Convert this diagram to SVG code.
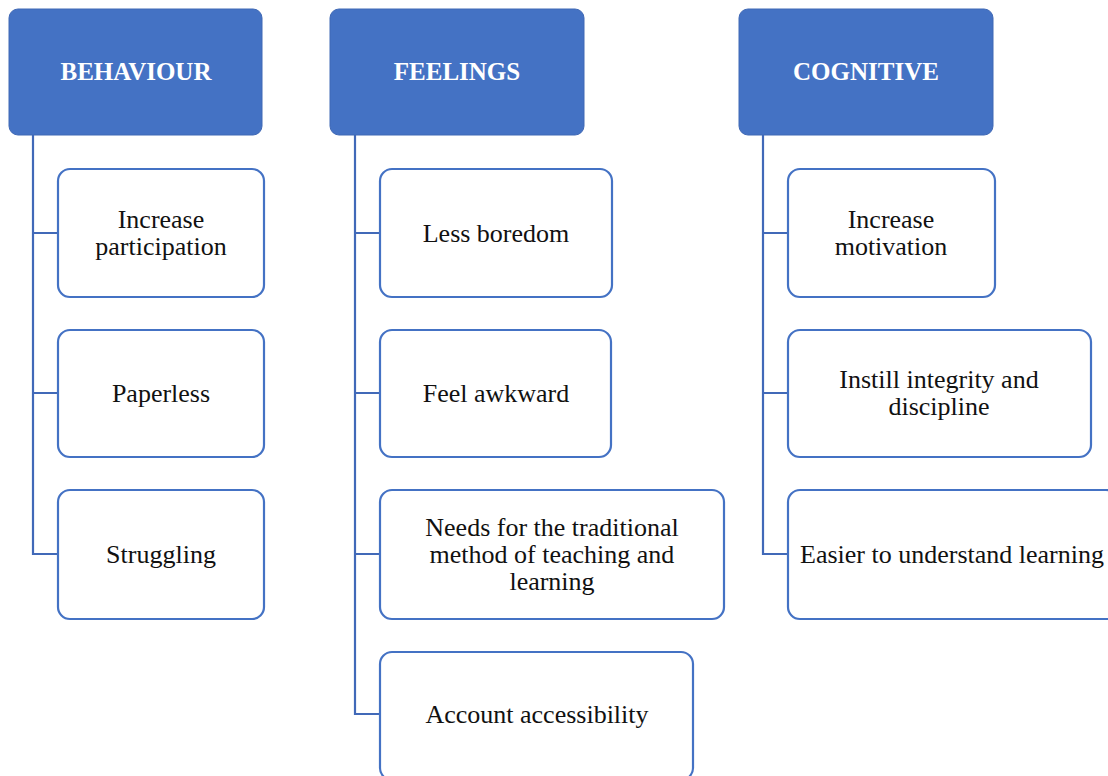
<svg xmlns="http://www.w3.org/2000/svg" width="1108" height="776" viewBox="0 0 1108 776">
<style>
.hdr{fill:#4472C4;stroke:#3F68B5;stroke-width:1}
.hdrt{font-family:'Liberation Serif','Times New Roman','DejaVu Serif',serif;font-weight:bold;font-size:25px;fill:#fff;text-anchor:middle}
.box{fill:#fff;stroke:#4472C4;stroke-width:2.2}
.t{font-family:'Liberation Serif','Times New Roman','DejaVu Serif',serif;font-size:26px;fill:#111;text-anchor:middle}
.c{fill:none;stroke:#4169B8;stroke-width:2.2}
</style>
<rect width="1108" height="776" fill="#fff"/>
<g id="connectors">
<path class="c" d="M33 135V554H58M33 233H58M33 393H58"/>
<path class="c" d="M355 135V714H380M355 233H380M355 393H380M355 554H380"/>
<path class="c" d="M763 135V554H788M763 233H788M763 393H788"/>
</g>
<g id="behaviour"><rect class="hdr" x="9" y="9" width="253" height="126" rx="9"/><text class="hdrt" x="136" y="80">BEHAVIOUR</text></g>
<g id="feelings"><rect class="hdr" x="330" y="9" width="254" height="126" rx="9"/><text class="hdrt" x="457" y="80">FEELINGS</text></g>
<g id="cognitive"><rect class="hdr" x="739" y="9" width="254" height="126" rx="9"/><text class="hdrt" x="866" y="80">COGNITIVE</text></g>
<g id="b1"><rect class="box" x="58" y="169" width="206" height="128" rx="12"/><text class="t" x="161" y="228">Increase</text><text class="t" x="161" y="255">participation</text></g>
<g id="b2"><rect class="box" x="58" y="330" width="206" height="127" rx="12"/><text class="t" x="161" y="402">Paperless</text></g>
<g id="b3"><rect class="box" x="58" y="490" width="206" height="129" rx="12"/><text class="t" x="161" y="563">Struggling</text></g>
<g id="f1"><rect class="box" x="380" y="169" width="232" height="128" rx="12"/><text class="t" x="496" y="242">Less boredom</text></g>
<g id="f2"><rect class="box" x="380" y="330" width="231" height="127" rx="12"/><text class="t" x="496" y="402">Feel awkward</text></g>
<g id="f3"><rect class="box" x="380" y="490" width="344" height="129" rx="12"/><text class="t" x="552" y="536">Needs for the traditional</text><text class="t" x="552" y="563">method of teaching and</text><text class="t" x="552" y="590">learning</text></g>
<g id="f4"><rect class="box" x="380" y="652" width="313" height="128" rx="12"/><text class="t" x="537" y="723">Account accessibility</text></g>
<g id="c1"><rect class="box" x="788" y="169" width="207" height="128" rx="12"/><text class="t" x="891" y="228">Increase</text><text class="t" x="891" y="255">motivation</text></g>
<g id="c2"><rect class="box" x="788" y="330" width="303" height="127" rx="12"/><text class="t" x="939" y="388">Instill integrity and</text><text class="t" x="939" y="415">discipline</text></g>
<g id="c3"><rect class="box" x="788" y="490" width="330" height="129" rx="12"/><text class="t" x="952" y="563">Easier to understand learning</text></g>
</svg>
